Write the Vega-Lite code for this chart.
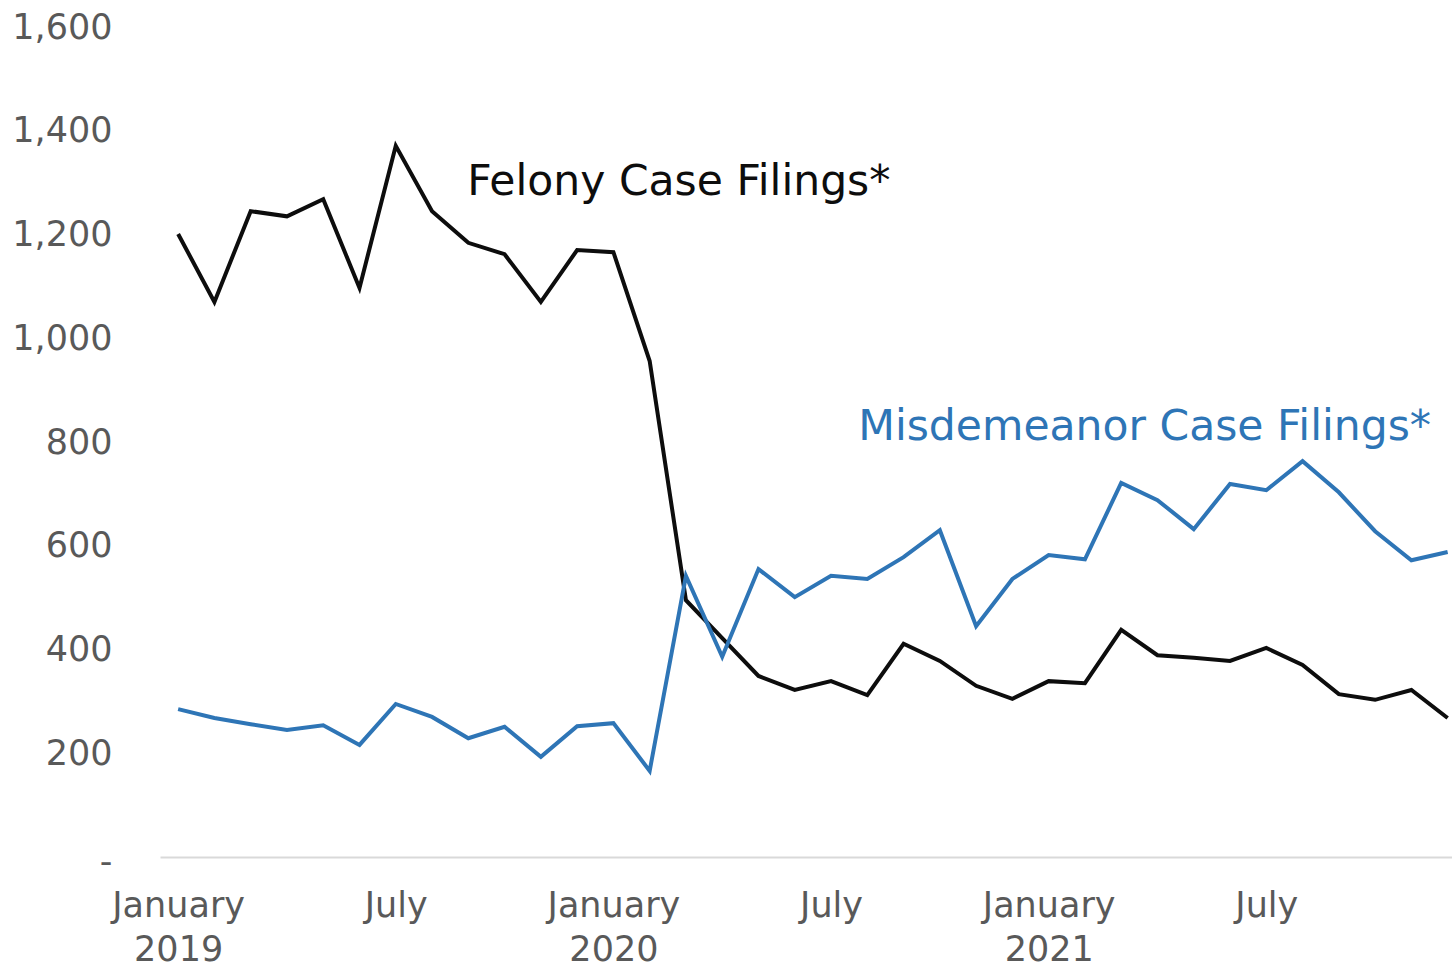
{
  "$schema": "https://vega.github.io/schema/vega-lite/v6.json",
  "width": 1292,
  "height": 830,
  "autosize": {"type": "none"},
  "padding": {"left": 160, "top": 27, "right": 0, "bottom": 112},
  "background": "white",
  "config": {"view": {"stroke": null}, "font": "DejaVu Sans"},
  "datasets": {
    "series": [
      {"series": "Felony", "i": 0, "month": "2019-01", "value": 1201},
      {"series": "Felony", "i": 1, "month": "2019-02", "value": 1070},
      {"series": "Felony", "i": 2, "month": "2019-03", "value": 1245},
      {"series": "Felony", "i": 3, "month": "2019-04", "value": 1235},
      {"series": "Felony", "i": 4, "month": "2019-05", "value": 1268},
      {"series": "Felony", "i": 5, "month": "2019-06", "value": 1097},
      {"series": "Felony", "i": 6, "month": "2019-07", "value": 1371},
      {"series": "Felony", "i": 7, "month": "2019-08", "value": 1245},
      {"series": "Felony", "i": 8, "month": "2019-09", "value": 1184},
      {"series": "Felony", "i": 9, "month": "2019-10", "value": 1162},
      {"series": "Felony", "i": 10, "month": "2019-11", "value": 1070},
      {"series": "Felony", "i": 11, "month": "2019-12", "value": 1170},
      {"series": "Felony", "i": 12, "month": "2020-01", "value": 1166},
      {"series": "Felony", "i": 13, "month": "2020-02", "value": 956},
      {"series": "Felony", "i": 14, "month": "2020-03", "value": 495},
      {"series": "Felony", "i": 15, "month": "2020-04", "value": 422},
      {"series": "Felony", "i": 16, "month": "2020-05", "value": 349},
      {"series": "Felony", "i": 17, "month": "2020-06", "value": 322},
      {"series": "Felony", "i": 18, "month": "2020-07", "value": 339},
      {"series": "Felony", "i": 19, "month": "2020-08", "value": 312},
      {"series": "Felony", "i": 20, "month": "2020-09", "value": 411},
      {"series": "Felony", "i": 21, "month": "2020-10", "value": 378},
      {"series": "Felony", "i": 22, "month": "2020-11", "value": 330},
      {"series": "Felony", "i": 23, "month": "2020-12", "value": 305},
      {"series": "Felony", "i": 24, "month": "2021-01", "value": 339},
      {"series": "Felony", "i": 25, "month": "2021-02", "value": 335},
      {"series": "Felony", "i": 26, "month": "2021-03", "value": 438},
      {"series": "Felony", "i": 27, "month": "2021-04", "value": 389},
      {"series": "Felony", "i": 28, "month": "2021-05", "value": 384},
      {"series": "Felony", "i": 29, "month": "2021-06", "value": 378},
      {"series": "Felony", "i": 30, "month": "2021-07", "value": 403},
      {"series": "Felony", "i": 31, "month": "2021-08", "value": 370},
      {"series": "Felony", "i": 32, "month": "2021-09", "value": 314},
      {"series": "Felony", "i": 33, "month": "2021-10", "value": 303},
      {"series": "Felony", "i": 34, "month": "2021-11", "value": 322},
      {"series": "Felony", "i": 35, "month": "2021-12", "value": 268},
      {"series": "Misdemeanor", "i": 0, "month": "2019-01", "value": 285},
      {"series": "Misdemeanor", "i": 1, "month": "2019-02", "value": 268},
      {"series": "Misdemeanor", "i": 2, "month": "2019-03", "value": 256},
      {"series": "Misdemeanor", "i": 3, "month": "2019-04", "value": 245},
      {"series": "Misdemeanor", "i": 4, "month": "2019-05", "value": 254},
      {"series": "Misdemeanor", "i": 5, "month": "2019-06", "value": 216},
      {"series": "Misdemeanor", "i": 6, "month": "2019-07", "value": 295},
      {"series": "Misdemeanor", "i": 7, "month": "2019-08", "value": 270},
      {"series": "Misdemeanor", "i": 8, "month": "2019-09", "value": 229},
      {"series": "Misdemeanor", "i": 9, "month": "2019-10", "value": 251},
      {"series": "Misdemeanor", "i": 10, "month": "2019-11", "value": 193},
      {"series": "Misdemeanor", "i": 11, "month": "2019-12", "value": 252},
      {"series": "Misdemeanor", "i": 12, "month": "2020-01", "value": 258},
      {"series": "Misdemeanor", "i": 13, "month": "2020-02", "value": 166},
      {"series": "Misdemeanor", "i": 14, "month": "2020-03", "value": 542},
      {"series": "Misdemeanor", "i": 15, "month": "2020-04", "value": 386},
      {"series": "Misdemeanor", "i": 16, "month": "2020-05", "value": 555},
      {"series": "Misdemeanor", "i": 17, "month": "2020-06", "value": 501},
      {"series": "Misdemeanor", "i": 18, "month": "2020-07", "value": 542},
      {"series": "Misdemeanor", "i": 19, "month": "2020-08", "value": 536},
      {"series": "Misdemeanor", "i": 20, "month": "2020-09", "value": 578},
      {"series": "Misdemeanor", "i": 21, "month": "2020-10", "value": 630},
      {"series": "Misdemeanor", "i": 22, "month": "2020-11", "value": 445},
      {"series": "Misdemeanor", "i": 23, "month": "2020-12", "value": 536},
      {"series": "Misdemeanor", "i": 24, "month": "2021-01", "value": 582},
      {"series": "Misdemeanor", "i": 25, "month": "2021-02", "value": 574},
      {"series": "Misdemeanor", "i": 26, "month": "2021-03", "value": 721},
      {"series": "Misdemeanor", "i": 27, "month": "2021-04", "value": 688},
      {"series": "Misdemeanor", "i": 28, "month": "2021-05", "value": 632},
      {"series": "Misdemeanor", "i": 29, "month": "2021-06", "value": 719},
      {"series": "Misdemeanor", "i": 30, "month": "2021-07", "value": 707},
      {"series": "Misdemeanor", "i": 31, "month": "2021-08", "value": 763},
      {"series": "Misdemeanor", "i": 32, "month": "2021-09", "value": 703},
      {"series": "Misdemeanor", "i": 33, "month": "2021-10", "value": 628},
      {"series": "Misdemeanor", "i": 34, "month": "2021-11", "value": 572},
      {"series": "Misdemeanor", "i": 35, "month": "2021-12", "value": 588}
    ],
    "labels": [
      {"series": "Felony", "label": "Felony Case Filings*", "i": 7.97, "value": 1276},
      {"series": "Misdemeanor", "label": "Misdemeanor Case Filings*", "i": 18.75, "value": 804}
    ]
  },
  "layer": [
    {
      "data": {"name": "series"},
      "mark": {"type": "line", "strokeWidth": 4},
      "encoding": {
        "x": {
          "field": "i", "type": "quantitative",
          "scale": {"domain": [-0.5, 35.12], "nice": false, "zero": false},
          "axis": {
            "title": null,
            "values": [0, 6, 12, 18, 24, 30],
            "labelExpr": "datum.value % 12 == 0 ? ['January', '' + (2019 + datum.value / 12)] : 'July'",
            "labelFont": "DejaVu Sans",
            "labelFontSize": 35,
            "labelColor": "#595959",
            "labelLineHeight": 44,
            "labelPadding": 31,
            "labelBaseline": "top",
            "labelFlush": false,
            "labelOverlap": false,
            "ticks": false,
            "grid": false,
            "domainColor": "#d9d9d9",
            "domainWidth": 2
          }
        },
        "y": {
          "field": "value", "type": "quantitative",
          "scale": {"domain": [0, 1600], "nice": false},
          "axis": {
            "title": null,
            "values": [0, 200, 400, 600, 800, 1000, 1200, 1400, 1600],
            "labelExpr": "datum.value == 0 ? '-\u2007' : format(datum.value, ',')",
            "labelFont": "DejaVu Sans",
            "labelFontSize": 35,
            "labelColor": "#595959",
            "labelPadding": 48,
            "labelOffset": {"condition": {"test": "datum.value == 0", "value": 4}, "value": 0},
            "ticks": false,
            "grid": false,
            "domain": false
          }
        },
        "color": {
          "field": "series", "type": "nominal",
          "scale": {"domain": ["Felony", "Misdemeanor"], "range": ["#0d0d0d", "#2e75b6"]},
          "legend": null
        }
      }
    },
    {
      "data": {"name": "labels"},
      "mark": {"type": "text", "align": "left", "baseline": "alphabetic", "fontSize": 42.5, "font": "DejaVu Sans"},
      "encoding": {
        "x": {"field": "i", "type": "quantitative"},
        "y": {"field": "value", "type": "quantitative"},
        "text": {"field": "label"},
        "color": {"field": "series", "type": "nominal", "legend": null}
      }
    }
  ]
}
